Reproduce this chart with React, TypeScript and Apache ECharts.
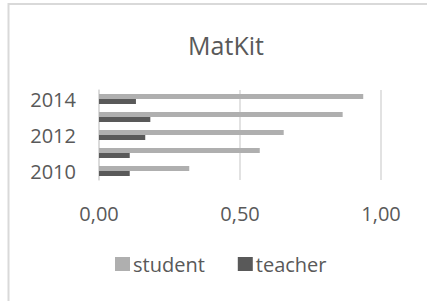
import React, { useEffect, useRef } from "react";
import * as echarts from "echarts";

const categories = ["2010", "2011", "2012", "2013", "2014"];
const studentValues = [0.32, 0.57, 0.655, 0.864, 0.937];
const teacherValues = [0.109, 0.109, 0.164, 0.182, 0.131];
const xTicks = [0, 0.5, 1];

const FONT = "Open Sans";
const TEXT = "#595959";

export default function App() {
  const ref = useRef<HTMLDivElement>(null);
  useEffect(() => {
    if (!ref.current) return;
    const chart = echarts.init(ref.current, null, { renderer: "svg" });
    chart.setOption({
      animation: false,
      backgroundColor: "#ffffff",
      title: {
        text: "MatKit",
        left: 221,
        textAlign: "center",
        top: 27,
        textStyle: { fontFamily: FONT, fontSize: 25, fontWeight: "normal", color: TEXT },
      },
      graphic: [
        {
          type: "rect",
          shape: { x: 8.5, y: 4, width: 600, height: 600 },
          style: { fill: "none", stroke: "#d9d9d9", lineWidth: 2 },
        },
      ],
      legend: {
        data: ["student", "teacher"],
        left: 115,
        top: 254,
        padding: 0,
        itemWidth: 15,
        itemHeight: 14,
        itemGap: 33,
        icon: "rect",
        textStyle: { fontFamily: FONT, fontSize: 20, color: TEXT, padding: [0, 0, 0, -2] },
      },
      grid: { left: 99, right: 46, top: 90, bottom: 121, containLabel: false },
      xAxis: {
        type: "value",
        min: xTicks[0],
        max: xTicks[xTicks.length - 1],
        interval: 0.5,
        axisLine: { show: false },
        axisTick: { show: false },
        splitLine: { lineStyle: { color: "#d9d9d9", width: 1.5 } },
        axisLabel: {
          margin: 23,
          fontFamily: FONT,
          fontSize: 20,
          color: TEXT,
          formatter: (v: number) => v.toFixed(2).replace(".", ","),
        },
      },
      yAxis: {
        type: "category",
        data: categories,
        axisLine: { show: true, lineStyle: { color: "#d9d9d9", width: 1.5 } },
        axisTick: { show: false },
        axisLabel: { interval: 1, margin: 23, fontFamily: FONT, fontSize: 20, color: TEXT },
      },
      series: [
        {
          name: "student",
          type: "bar",
          data: studentValues,
          barWidth: 5,
          barGap: "0%",
          itemStyle: { color: "#afafaf" },
        },
        {
          name: "teacher",
          type: "bar",
          data: teacherValues,
          barWidth: 5,
          barGap: "0%",
          itemStyle: { color: "#595959" },
        },
      ],
    });
    return () => chart.dispose();
  }, []);
  return (
    <div
      ref={ref}
      style={{ position: "fixed", left: 0, top: 0, width: 427, height: 301 }}
    />
  );
}
